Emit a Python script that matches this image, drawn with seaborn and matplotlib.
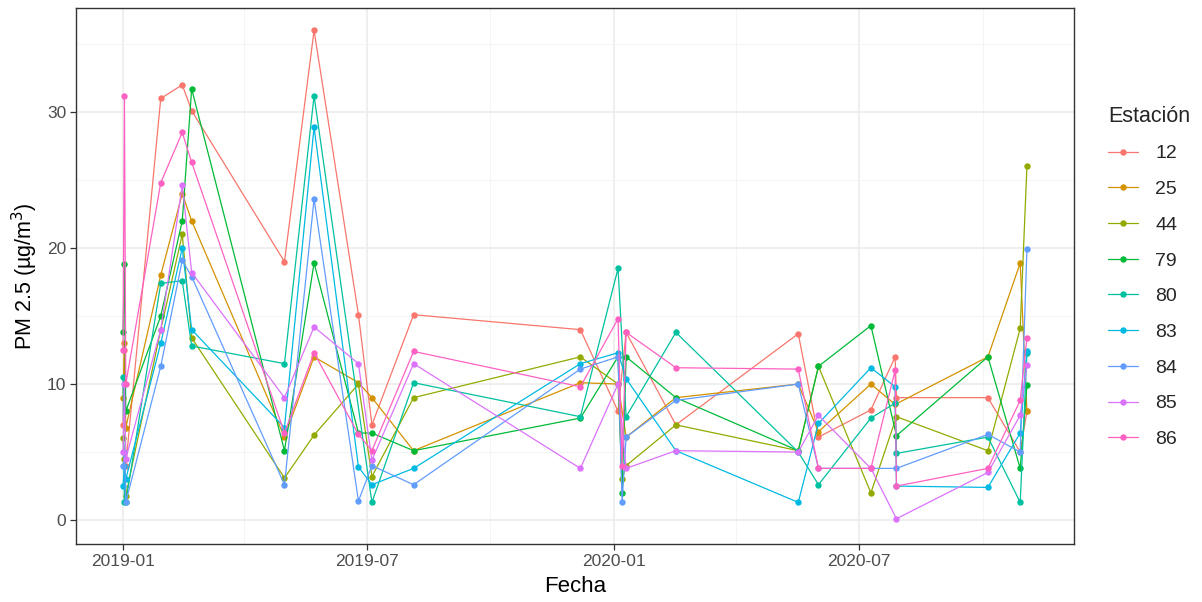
import numpy as np
import pandas as pd
import matplotlib
matplotlib.use("Agg")
import matplotlib.pyplot as plt
import matplotlib.dates as mdates
import seaborn as sns

nan = np.nan

dates = ["2019-01-01", "2019-01-02", "2019-01-03", "2019-01-29", "2019-02-14",
         "2019-02-21", "2019-05-01", "2019-05-23", "2019-06-25", "2019-07-05",
         "2019-08-05", "2019-12-07", "2020-01-04", "2020-01-07", "2020-01-10",
         "2020-02-16", "2020-05-17", "2020-06-01", "2020-07-10", "2020-07-28",
         "2020-07-29", "2020-10-05", "2020-10-29", "2020-11-03"]

stations = ["12", "25", "44", "79", "80", "83", "84", "85", "86"]

s12 = [7.0, 12.5, 4.0, 31.0, 32.0, 30.1, 19.0, 36.0, 15.1, 7.0, 15.1, 14.0,
       8.0, nan, 13.8, 7.0, 13.7, 6.1, 8.1, 12.0, 9.0, 9.0, 5.0, 8.0]
s25 = [9.0, 13.0, 6.8, 18.0, 24.0, 22.0, 6.1, 12.0, 10.1, 9.0, 5.1, 10.1,
       10.0, nan, 6.1, 9.0, 10.0, 6.5, 10.0, 8.5, nan, 12.0, 18.9, 8.0]
s44 = [6.0, 4.5, 1.8, 14.0, 21.0, 13.4, 3.1, 6.25, 10.0, 3.2, 9.0, 12.0,
       10.0, 3.0, 4.0, 7.0, 5.1, 11.3, 2.0, nan, 7.6, 5.1, 14.1, 26.0]
s79 = [13.8, 18.8, 8.0, 15.0, 22.0, 31.7, 5.1, 18.9, 6.4, 6.4, 5.1, 7.5,
       12.0, 2.0, 12.0, 9.0, 5.1, 11.3, 14.3, nan, 6.2, 12.0, 3.8, 9.9]
s80 = [10.5, 1.3, 1.3, 17.4, 17.6, 12.8, 11.5, 31.2, nan, 1.3, 10.1, 7.6,
       18.5, nan, 7.6, 13.8, 5.0, 2.6, 7.5, 8.6, 4.9, 6.1, 1.3, 12.3]
s83 = [2.5, 4.0, 3.0, 13.0, 20.0, 14.0, 6.8, 28.9, 3.9, 2.6, 3.8, 11.5,
       12.3, nan, 10.4, 5.1, 1.3, 7.1, 11.2, 9.8, 2.5, 2.4, 6.4, 12.4]
s84 = [4.0, 5.0, 1.3, 11.3, 19.1, 17.9, 2.6, 23.6, 1.4, 4.0, 2.6, 11.1,
       12.0, 1.3, 6.1, 8.8, 10.0, 3.8, 3.8, nan, 3.8, 6.3, 5.0, 19.9]
s85 = [5.0, 10.0, 4.5, 14.0, 24.6, 18.2, 9.0, 14.2, 11.5, 4.4, 11.5, 3.8,
       10.0, nan, 3.8, 5.1, 5.0, 7.7, 3.8, nan, 0.1, 3.5, 7.7, 11.4]
s86 = [12.5, 31.2, 10.0, 24.8, 28.5, 26.3, 6.4, 12.3, 6.3, 5.1, 12.4, 9.8,
       14.8, 4.0, 13.8, 11.2, 11.1, 3.8, 3.8, 11.0, 2.5, 3.8, 8.8, 13.4]

series = [s12, s25, s44, s79, s80, s83, s84, s85, s86]
palette = ["#F8766D", "#D39200", "#93AA00", "#00BA38", "#00C19F",
           "#00B9E3", "#619CFF", "#DB72FB", "#FF61C3"]

rows = []
for st, vals in zip(stations, series):
    for d, v in zip(dates, vals):
        rows.append({"Fecha": pd.Timestamp(d), "PM": v, "Estación": st})
df = pd.DataFrame(rows).dropna()

sns.set_theme(style="whitegrid")
plt.rcParams["font.family"] = ["Liberation Sans", "DejaVu Sans"]

fig = plt.figure(figsize=(12.02, 6.02), dpi=100)
ax = fig.add_axes([76 / 1202, 1 - 544 / 602, (1074 - 76) / 1202, (544 - 8) / 602])

sns.lineplot(data=df, x="Fecha", y="PM", hue="Estación", hue_order=stations,
             palette=palette, marker="o", markersize=4.6, markeredgewidth=0,
             linewidth=0.9, estimator=None, sort=True, ax=ax)

ax.set_facecolor("white")
ax.set_yticks([0, 10, 20, 30])
ax.set_yticks([5, 15, 25, 35], minor=True)
xt = [pd.Timestamp(d) for d in ["2019-01-01", "2019-07-01", "2020-01-01", "2020-07-01"]]
xm = [pd.Timestamp(d) for d in ["2019-04-01", "2019-10-01", "2020-04-01", "2020-10-01"]]
ax.set_xticks(xt)
ax.set_xticks(xm, minor=True)
ax.xaxis.set_major_formatter(mdates.DateFormatter("%Y-%m"))
ax.set_xlim(pd.Timestamp("2018-11-27"), pd.Timestamp("2020-12-08"))
ax.set_ylim(-1.76, 37.65)

ax.grid(True, which="major", color="#EBEBEB", linewidth=1.1)
ax.grid(True, which="minor", color="#F2F2F2", linewidth=0.6)
ax.set_axisbelow(True)
for sp in ax.spines.values():
    sp.set_visible(True)
    sp.set_color("#333333")
    sp.set_linewidth(1.0)

ax.tick_params(axis="both", which="major", length=4, width=0.9, color="#333333",
               labelsize=12.5, labelcolor="#4D4D4D", pad=3, bottom=True, left=True)
ax.tick_params(axis="both", which="minor", length=0)

ax.set_xlabel("Fecha", fontsize=16, color="black", labelpad=5)
ax.set_ylabel("PM 2.5 (µg/m$^{3}$)", fontsize=15.5, color="black", labelpad=5)

handles, labels = ax.get_legend_handles_labels()
ax.get_legend().remove()
leg = fig.legend(handles, labels, title="Estación", loc="upper left",
                 bbox_to_anchor=(1100 / 1202, 1 - 98 / 602), frameon=False,
                 fontsize=14, title_fontsize=15.5, labelspacing=0.93,
                 handlelength=1.55, handletextpad=0.9, borderaxespad=0)
leg._legend_box.align = "left"

fig.savefig("out.png", dpi=100)
